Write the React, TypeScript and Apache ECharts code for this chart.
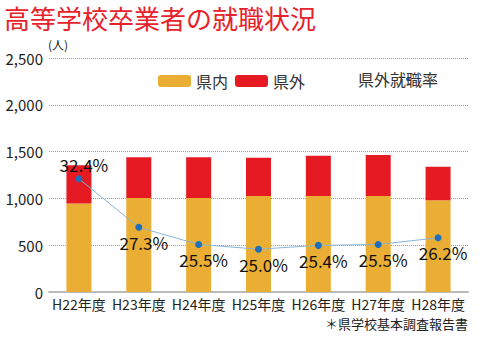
import React, { useEffect, useRef } from "react";
import * as echarts from "echarts";

const categories = ["H22年度", "H23年度", "H24年度", "H25年度", "H26年度", "H27年度", "H28年度"];
const inPref = [945, 1005, 1005, 1025, 1025, 1025, 980];
const outPref = [410, 435, 435, 410, 430, 440, 358];
const outRate = [32.4, 27.3, 25.5, 25.0, 25.4, 25.5, 26.2];
const yTicks = { min: 0, max: 2500, interval: 500 };

const FONT = "'Noto Sans CJK JP', 'Noto Sans', sans-serif";

export default function App() {
  const ref = useRef<HTMLDivElement>(null);
  useEffect(() => {
    if (!ref.current) return;
    const chart = echarts.init(ref.current, null, { renderer: "svg" });
    chart.setOption({
      animation: false,
      textStyle: { fontFamily: FONT },
      title: {
        text: "高等学校卒業者の就職状況",
        left: 0,
        top: 0,
        padding: [4, 4],
        textStyle: { fontFamily: FONT, fontSize: 26, fontWeight: "normal", color: "#E8222B" },
      },
      legend: [
        {
          data: ["県内", "県外"],
          left: 158,
          top: 73,
          itemWidth: 33,
          itemHeight: 12,
          itemGap: 7,
          padding: 0,
          textStyle: { fontFamily: FONT, fontSize: 16, color: "#333" },
        },
        {
          data: [{ name: "県外就職率", icon: "none" }],
          left: 353,
          top: 71,
          itemWidth: 0,
          itemHeight: 12,
          padding: 0,
          textStyle: { fontFamily: FONT, fontSize: 16, color: "#333" },
        },
      ],
      grid: { left: 49, right: 12, top: 58, bottom: 56, containLabel: false },
      xAxis: {
        type: "category",
        data: categories,
        axisTick: { show: false },
        axisLine: { lineStyle: { color: "#bbb", width: 2 } },
        axisLabel: { fontFamily: FONT, fontSize: 14, color: "#222", margin: 5, interval: 0 },
      },
      yAxis: [
        {
          type: "value",
          min: yTicks.min,
          max: yTicks.max,
          interval: yTicks.interval,
          name: "(人)",
          nameLocation: "end",
          nameGap: 5,
          nameTextStyle: { fontFamily: FONT, fontSize: 12, color: "#222", align: "left", padding: [0, 0, 0, -1] },
          axisLine: { show: false },
          axisTick: { show: false },
          axisLabel: {
            fontFamily: FONT,
            fontSize: 15,
            color: "#222",
            margin: 6,
            formatter: (v: number) => v.toLocaleString("en-US"),
          },
          splitLine: { lineStyle: { color: "#999", type: "dotted", width: 1 } },
        },
        {
          type: "value",
          min: 20.5,
          max: 45.1,
          show: false,
          alignTicks: false,
          splitLine: { show: false },
        },
      ],
      series: [
        {
          name: "県内",
          type: "bar",
          stack: "total",
          data: inPref,
          barWidth: 25,
          itemStyle: { color: "#EBAE34" },
        },
        {
          name: "県外",
          type: "bar",
          stack: "total",
          data: outPref,
          barWidth: 25,
          itemStyle: { color: "#E51A23" },
        },
        {
          name: "県外就職率",
          type: "line",
          yAxisIndex: 1,
          data: outRate.map((v, i) => ({
            value: v,
            label: i === 0 ? { position: "top", distance: 2 } : { position: "bottom", distance: 3 },
          })),
          symbol: "circle",
          symbolSize: 7,
          lineStyle: { color: "#86B6DA", width: 1 },
          itemStyle: { color: "#1E6EB8" },
          label: {
            show: true,
            fontFamily: FONT,
            fontSize: 17,
            color: "#111",
            offset: [5, 0],
            formatter: (p: any) => p.value.toFixed(1) + "%",
          },
        },
      ],
      graphic: [
        { type: "circle", shape: { cx: 408, cy: 79, r: 2 }, style: { fill: "#1E6EB8" } },
        {
          type: "text",
          right: 12,
          top: 317,
          style: { text: "＊県学校基本調査報告書", fontFamily: FONT, fontSize: 13, fill: "#222" },
        },
      ],
    });
    return () => chart.dispose();
  }, []);
  return <div ref={ref} style={{ width: 480, height: 348, position: "absolute", left: 0, top: 0 }} />;
}
